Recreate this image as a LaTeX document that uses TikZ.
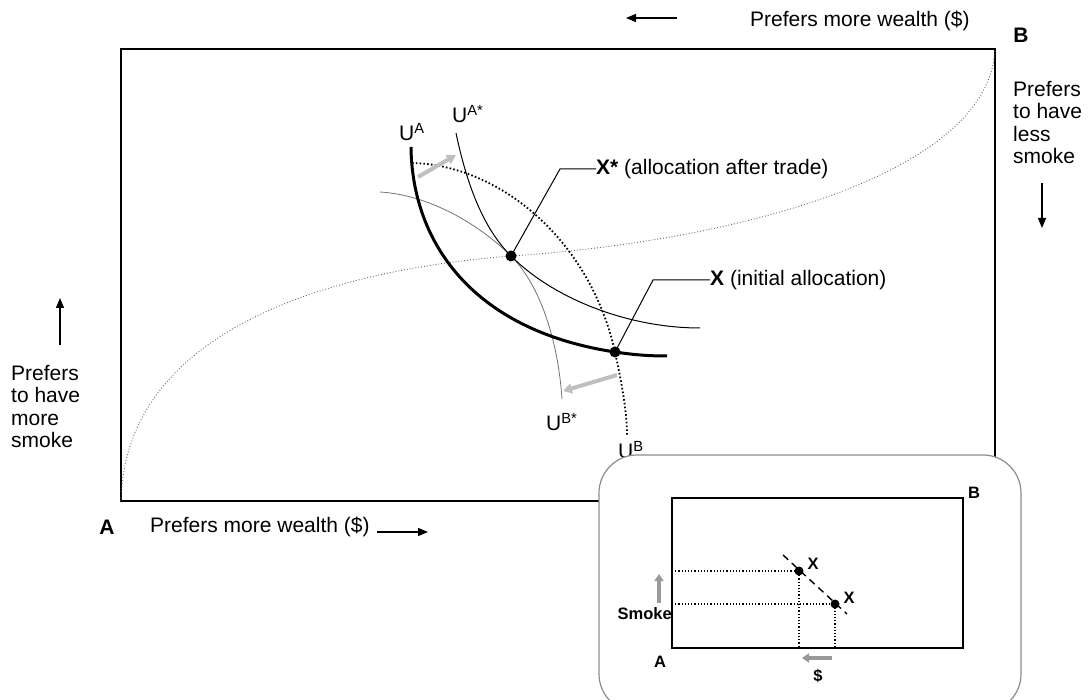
\documentclass[tikz,border=0pt]{standalone}
\usepackage{fontspec}
\setmainfont{Liberation Sans}
\usetikzlibrary{arrows.meta}

\begin{document}
\begin{tikzpicture}[x=1pt, y=-1pt,
  lbl/.style={font=\fontsize{21}{22.5}\selectfont, inner sep=0pt},
  small/.style={font=\fontsize{16.5}{18}\selectfont\bfseries, inner sep=0pt},
  blackarrow/.style={-{Triangle[length=10pt,width=8pt]}, line width=1.3pt},
  grayarrow/.style={-{Triangle[length=9pt,width=10pt]}, line width=4pt, draw=black!25},
  dot/.style={circle, fill=black, inner sep=0pt, minimum size=#1}]
\useasboundingbox (0,0) rectangle (1090,700);

% Edgeworth box
\coordinate (A) at (121,501);
\coordinate (B) at (995,49);
\draw[line width=2.8pt] (A) rectangle (B);

% allocations
\coordinate (Xs) at (511,256);
\coordinate (X) at (615,352);

% contract curve
\draw[dotted, line width=0.9pt, black!60] (A) .. controls (125,330) and (330,270) .. (Xs)
  .. controls (750,240) and (990,170) .. (B);

% indifference curves
\draw[line width=0.8pt, black!55] (380,192) .. controls (430,195) and (480,225) .. (Xs)
  .. controls (540,285) and (558,340) .. (562,399);
\draw[line width=1pt] (456,133) .. controls (470,200) and (490,235) .. (Xs)
  .. controls (555,300) and (630,328) .. (700,328);
\draw[line width=1.8pt, dash pattern=on 1.6pt off 2.2pt] (412,163) .. controls (500,165) and (590,240) .. (X)
  .. controls (621,380) and (627,410) .. (627,435);
\draw[line width=3pt] (411,147) .. controls (412,240) and (470,330) .. (X)
  .. controls (635,355) and (650,356) .. (667,356);

% shifts
\draw[grayarrow] (418,177) -- (456,155);
\draw[grayarrow] (617,375) -- (563,391);

\node[dot=11pt] (xsdot) at (Xs) {};
\node[dot=11pt] (xdot) at (X) {};

% curve labels
\node[lbl, anchor=base west] (ua) at (399,141) {U\textsuperscript{A}};
\node[lbl, anchor=base west] (uas) at (452,123) {U\textsuperscript{A*}};
\node[lbl, anchor=base west] (ubs) at (546,431) {U\textsuperscript{B*}};
\node[lbl, anchor=base west] (ub) at (618,459) {U\textsuperscript{B}};

% leaders
\node[lbl, anchor=west] (xslbl) at (596,169) {\textbf{X*} (allocation after trade)};
\node[lbl, anchor=west] (xlbl) at (710,280) {\textbf{X} (initial allocation)};
\draw[line width=1pt] (xsdot.center) -- (560,169) -- (xslbl.west);
\draw[line width=1pt] (xdot.center) -- (653,280) -- (xlbl.west);

% axis labels
\node[lbl, font=\fontsize{21}{22.5}\selectfont\bfseries] (alabel) at (107,527) {A};
\node[lbl, anchor=west] (wealthA) at (150,527) {Prefers more wealth (\$)};
\draw[blackarrow] (377,532) -- (428,532);

\node[lbl, font=\fontsize{21}{22.5}\selectfont\bfseries] (blabel) at (1021,35) {B};
\node[lbl, anchor=west] (wealthB) at (750,21) {Prefers more wealth (\$)};
\draw[blackarrow] (677,18) -- (626,18);

\node[lbl, anchor=north west, align=left] (smokeA) at (11,365) {Prefers\\to have\\more\\smoke};
\draw[blackarrow] (60,345) -- (60,298);

\node[lbl, anchor=north west, align=left] (smokeB) at (1013,81) {Prefers\\to have\\less\\smoke};
\draw[blackarrow] (1042,183) -- (1042,228);

% inset
\draw[black!45, line width=1.2pt, fill=white, rounded corners=38pt] (599,455) rectangle (1021,712);
\coordinate (a) at (672,648);
\coordinate (b) at (963,498);
\draw[line width=2.4pt] (a) rectangle (b);
\coordinate (x1) at (799,571);
\coordinate (x2) at (835,604);
\draw[line width=1.4pt, dash pattern=on 7pt off 5pt] (783,555) -- (847,614);
\draw[dotted, line width=1.2pt] (672,571) -- (x1) -- (799,648);
\draw[dotted, line width=1.2pt] (672,604) -- (x2) -- (835,648);
\node[dot=9pt] (x1dot) at (x1) {};
\node[dot=9pt] (x2dot) at (x2) {};
\node[small] (x1lbl) at (813,564) {X};
\node[small] (x2lbl) at (849,598) {X};
\node[small] (ia) at (660,662) {A};
\node[small] (ib) at (974,493) {B};
\node[small, anchor=east] (ismoke) at (672,614) {Smoke};
\node[small] (idollar) at (818,676) {\$};
\draw[-{Triangle[length=7pt,width=9pt]}, line width=3.5pt, black!40] (659,603) -- (659,574);
\draw[-{Triangle[length=7pt,width=9pt]}, line width=3.5pt, black!40] (832,658) -- (802,658);
\end{tikzpicture}
\end{document}
